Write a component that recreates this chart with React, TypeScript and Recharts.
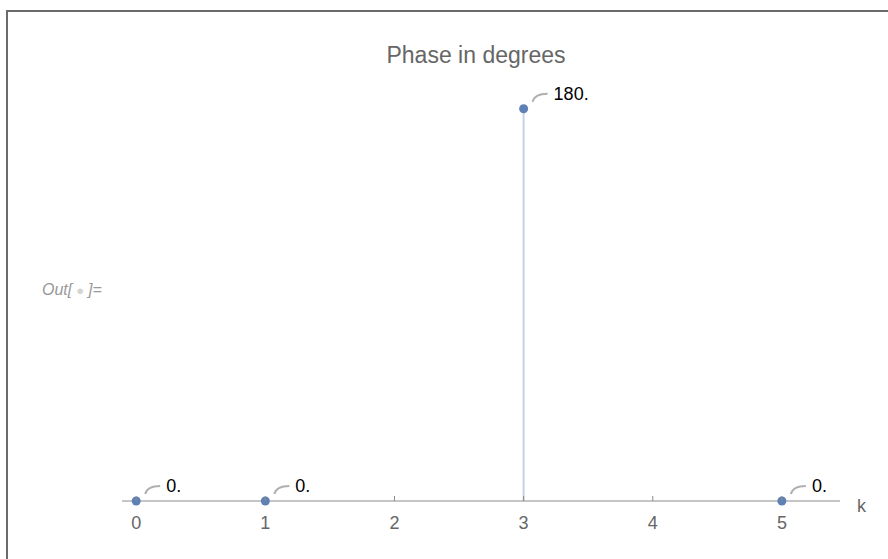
import { ComposedChart, Scatter, XAxis, YAxis, ReferenceLine, Label } from "recharts"

const ks = [0, 1, 3, 5]
const phases = [0, 0, 180, 0]
const phaseLabels = ["0.", "0.", "180.", "0."]
const xTicks = [0, 1, 2, 3, 4, 5]

const points = ks.map((k, i) => ({ k, v: phases[i], label: phaseLabels[i] }))

const FONT = "Liberation Sans, Arial, sans-serif"

const PointWithLabel = (props: any) => {
  const { cx, cy, payload } = props
  if (cx == null || cy == null) return null
  return (
    <g>
      <path
        d={`M${cx + 9},${cy - 7} Q${cx + 11},${cy - 15} ${cx + 24},${cy - 15}`}
        fill="none"
        stroke="#b0b0b0"
        strokeWidth={2}
      />
      <circle cx={cx} cy={cy} r={4.5} fill="#5E81B5" />
      <text x={cx + 30} y={cy - 9} fontSize={18} fill="#000" fontFamily={FONT}>
        {payload.label}
      </text>
    </g>
  )
}

const KTick = (props: any) => {
  const { x, y, payload } = props
  return (
    <g>
      <line x1={x} y1={y} x2={x} y2={y - 5} stroke="#8c8c8c" />
      <text x={x} y={y + 28} textAnchor="middle" fontSize={18} fill="#666" fontFamily={FONT}>
        {payload.value}
      </text>
    </g>
  )
}

export default function App() {
  return (
    <div style={{ position: "absolute", left: 0, top: 0, width: 888, height: 559, overflow: "hidden", background: "#fff" }}>
      <div
        style={{
          position: "absolute",
          left: 6,
          top: 10,
          width: 920,
          height: 620,
          border: "2px solid #6b6b6b",
        }}
      />
      <div
        style={{
          position: "absolute",
          left: 42,
          top: 281,
          fontSize: 16,
          fontStyle: "italic",
          color: "#999",
          fontFamily: FONT,
          whiteSpace: "pre",
        }}
      >
        Out[<span style={{ color: "#d4d4d4", fontSize: 13, padding: "0 4px" }}>●</span>]=
      </div>
      <div style={{ position: "absolute", left: 0, top: 0 }}>
        <ComposedChart width={888} height={559} data={points} margin={{ top: 87, right: 48, bottom: 28, left: 122 }}>
          <text x={476} y={63} textAnchor="middle" fontSize={23} fill="#666" fontFamily={FONT}>
            Phase in degrees
          </text>
          <XAxis
            dataKey="k"
            type="number"
            domain={[-0.11, 5.45]}
            ticks={xTicks}
            allowDataOverflow
            height={30}
            axisLine={{ stroke: "#8c8c8c" }}
            tickLine={false}
            tickSize={0}
            tickMargin={0}
            tick={<KTick />}
          >
            <Label value="k" position="right" offset={17} dy={-10} fontSize={18} fill="#666" fontFamily={FONT} />
          </XAxis>
          <YAxis type="number" domain={[0, 190]} hide />
          {points.map((p) => (
            <ReferenceLine
              key={p.k}
              segment={[{ x: p.k, y: 0 }, { x: p.k, y: p.v }]}
              stroke="#c6d3e6"
              strokeWidth={2}
            />
          ))}
          <Scatter dataKey="v" fill="#5E81B5" shape={<PointWithLabel />} isAnimationActive={false} />
        </ComposedChart>
      </div>
    </div>
  )
}
